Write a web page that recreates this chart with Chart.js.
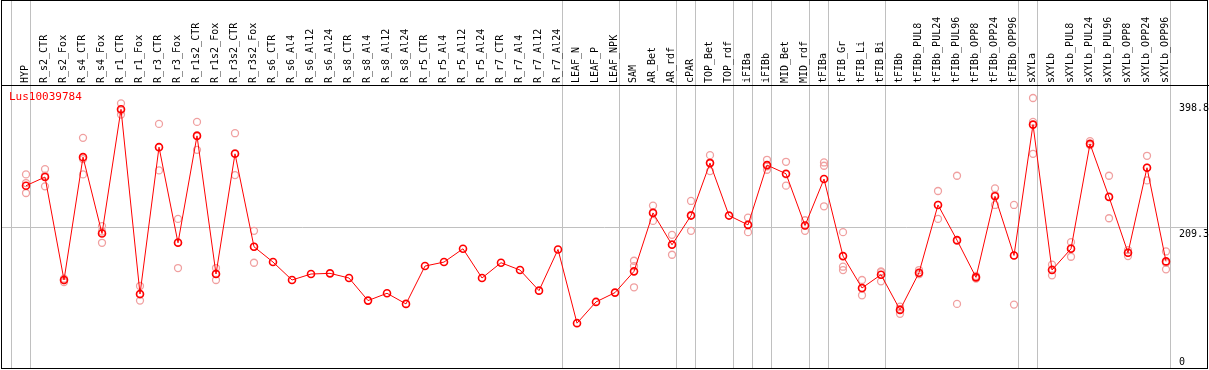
<!DOCTYPE html>
<html>
<head>
<meta charset="utf-8">
<script src="https://cdn.jsdelivr.net/npm/chart.js@4.4.0/dist/chart.umd.min.js"></script>
<style>
    body { margin: 0; background: #fff; }
    #wrap { width: 1209px; height: 370px; }
</style>
</head>
<body>
<div id="wrap"><canvas id="myChart" width="1209" height="370"></canvas></div>
<script>
// Tên các mẫu (cột)
var labels = ['HYP', 'R_s2_CTR', 'R_s2_Fox', 'R_s4_CTR', 'R_s4_Fox', 'R_r1_CTR', 'R_r1_Fox',
    'R_r3_CTR', 'R_r3_Fox', 'R_r1s2_CTR', 'R_r1s2_Fox', 'R_r3s2_CTR', 'R_r3s2_Fox',
    'R_s6_CTR', 'R_s6_Al4', 'R_s6_Al12', 'R_s6_Al24', 'R_s8_CTR', 'R_s8_Al4', 'R_s8_Al12',
    'R_s8_Al24', 'R_r5_CTR', 'R_r5_Al4', 'R_r5_Al12', 'R_r5_Al24', 'R_r7_CTR', 'R_r7_Al4',
    'R_r7_Al12', 'R_r7_Al24', 'LEAF_N', 'LEAF_P', 'LEAF_NPK', 'SAM', 'AR_Bet', 'AR_rdf',
    'cPAR', 'TOP_Bet', 'TOP_rdf', 'iFIBa', 'iFIBb', 'MID_Bet', 'MID_rdf', 'tFIBa',
    'tFIB_Gr', 'tFIB_Li', 'tFIB_Bi', 'tFIBb', 'tFIBb_PUL8', 'tFIBb_PUL24', 'tFIBb_PUL96',
    'tFIBb_OPP8', 'tFIBb_OPP24', 'tFIBb_OPP96', 'sXYLa', 'sXYLb', 'sXYLb_PUL8',
    'sXYLb_PUL24', 'sXYLb_PUL96', 'sXYLb_OPP8', 'sXYLb_OPP24', 'sXYLb_OPP96'];

// Giá trị trung bình
var means = [273, 286, 131, 316, 201, 388, 110, 331, 187, 348, 140, 321, 181,
    158, 131, 140, 141, 134, 100, 111, 95, 152, 158, 178, 134, 157, 146, 115, 177,
    66, 98, 112, 144, 232, 184, 228, 307, 228, 214, 304, 291, 213, 283, 167, 119,
    139, 86, 142, 244, 191, 135, 257, 168, 365, 146, 178, 336, 256, 172, 300, 159];

// Giá trị lặp lại (replicates) cho từng cột
var reps = [[290, 277, 262], [298, 288, 272], [128, 131, 133], [345, 313, 290],
    [212, 204, 187], [397, 386, 380], [122, 109, 100], [366, 331, 296], [223, 188, 149],
    [369, 349, 327], [149, 141, 131], [352, 322, 289], [205, 181, 157],
    [], [], [], [], [], [], [], [], [], [], [], [], [], [], [], [],
    [], [], [], [160, 152, 120], [243, 233, 220], [199, 185, 169], [250, 229, 205],
    [319, 308, 295], [], [225, 214, 203], [312, 302, 297], [309, 290, 273],
    [221, 213, 205], [308, 303, 242], [203, 151, 146], [131, 118, 108], [144, 143, 129],
    [91, 87, 80], [146, 140, 140], [265, 244, 223], [288, 190, 95], [137, 136, 133],
    [269, 259, 244], [244, 168, 94], [405, 369, 321], [154, 147, 138], [188, 179, 166],
    [340, 336, 334], [288, 257, 224], [176, 172, 167], [318, 300, 281], [174, 157, 147]];

// Đường phân nhóm nằm sau các cột này
var separators = [0, 1, 29, 32, 35, 36, 38, 39, 40, 42, 43, 46, 53, 54, 61];

// Nhãn trục phải
var yTicks = [0, 209.3, 398.8];
var seriesName = 'Lus10039784';

var SEP_SHIFT = 0.247;
var monoFont = 'DejaVu Sans Mono';

var meanPoints = means.map(function (v, i) {
    return { x: i + 1, y: v };
});
var repPoints = [];
reps.forEach(function (list, i) {
    list.forEach(function (v) {
        repPoints.push({ x: i + 1, y: v });
    });
});

function isSep(value) {
    return !Number.isInteger(Math.round(value * 1000) / 1000);
}

// Khung, nhãn trục phải và tên gen
var framePlugin = {
    id: 'frame',
    afterDraw: function (chart) {
        var ctx = chart.ctx;
        var y = chart.scales.y;
        var area = chart.chartArea;
        ctx.save();
        ctx.strokeStyle = '#000';
        ctx.lineWidth = 1;
        ctx.strokeRect(1.5, 0.5, 1206, 368);

        ctx.font = '10px "' + monoFont + '"';
        ctx.fillStyle = '#000';
        ctx.textAlign = 'left';
        yTicks.forEach(function (v) {
            var py = y.getPixelForValue(v);
            ctx.textBaseline = v === 0 ? 'bottom' : 'top';
            ctx.fillText(String(v), 1179, v === 0 ? py : py + 1);
        });

        ctx.fillStyle = '#ff0000';
        ctx.textBaseline = 'top';
        ctx.font = '11px "' + monoFont + '"';
        ctx.fillText(seriesName, area.left + 8, area.top + 7);
        ctx.restore();
    }
};

var ctx = document.getElementById('myChart').getContext('2d');
var myChart = new Chart(ctx, {
    type: 'line',
    data: {
        datasets: [{
            label: 'mean',
            data: meanPoints,
            borderColor: '#ff0000',
            borderWidth: 1,
            pointRadius: 3.5,
            pointBorderWidth: 1.6,
            pointBorderColor: '#ff0000',
            pointBackgroundColor: 'rgba(0,0,0,0)',
            tension: 0
        }, {
            label: 'reps',
            data: repPoints,
            showLine: false,
            pointRadius: 3.5,
            pointBorderWidth: 1.3,
            pointBorderColor: '#f0a0a0',
            pointBackgroundColor: 'rgba(0,0,0,0)'
        }]
    },
    options: {
        responsive: false,
        animation: false,
        devicePixelRatio: 1,
        layout: { autoPadding: false, padding: { left: 1, right: 1, top: 0, bottom: 1 } },
        scales: {
            x: {
                type: 'linear',
                position: 'top',
                min: -0.316,
                max: 63.21,
                afterBuildTicks: function (scale) {
                    var t = [];
                    for (var i = 0; i < labels.length; i++) t.push({ value: i + 1 });
                    separators.forEach(function (s) { t.push({ value: s + SEP_SHIFT }); });
                    t.sort(function (a, b) { return a.value - b.value; });
                    scale.ticks = t;
                },
                afterFit: function (scale) {
                    scale.height = 85;
                    scale.paddingLeft = 0;
                    scale.paddingRight = 0;
                },
                ticks: {
                    autoSkip: false,
                    minRotation: 90,
                    maxRotation: 90,
                    padding: -83,
                    labelOffset: 11,
                    color: '#000',
                    font: { family: monoFont, size: 10 },
                    callback: function (value) {
                        return isSep(value) ? '' : labels[Math.round(value) - 1];
                    }
                },
                grid: {
                    color: function (c) {
                        return c.tick && isSep(c.tick.value) ? '#c0c0c0' : 'rgba(0,0,0,0)';
                    },
                    tickLength: 85,
                    lineWidth: 1
                },
                border: { display: true, color: '#000', width: 1 }
            },
            y: {
                type: 'linear',
                position: 'right',
                min: -3,
                max: 424.6,
                afterBuildTicks: function (scale) { scale.ticks = [{ value: 209.3 }]; },
                afterFit: function (scale) { scale.width = 0; },
                ticks: { display: false },
                grid: { color: '#c0c0c0', drawTicks: false },
                border: { display: false }
            }
        },
        plugins: {
            legend: { display: false },
            tooltip: { enabled: false }
        }
    },
    plugins: [framePlugin]
});
</script>
</body>
</html>
